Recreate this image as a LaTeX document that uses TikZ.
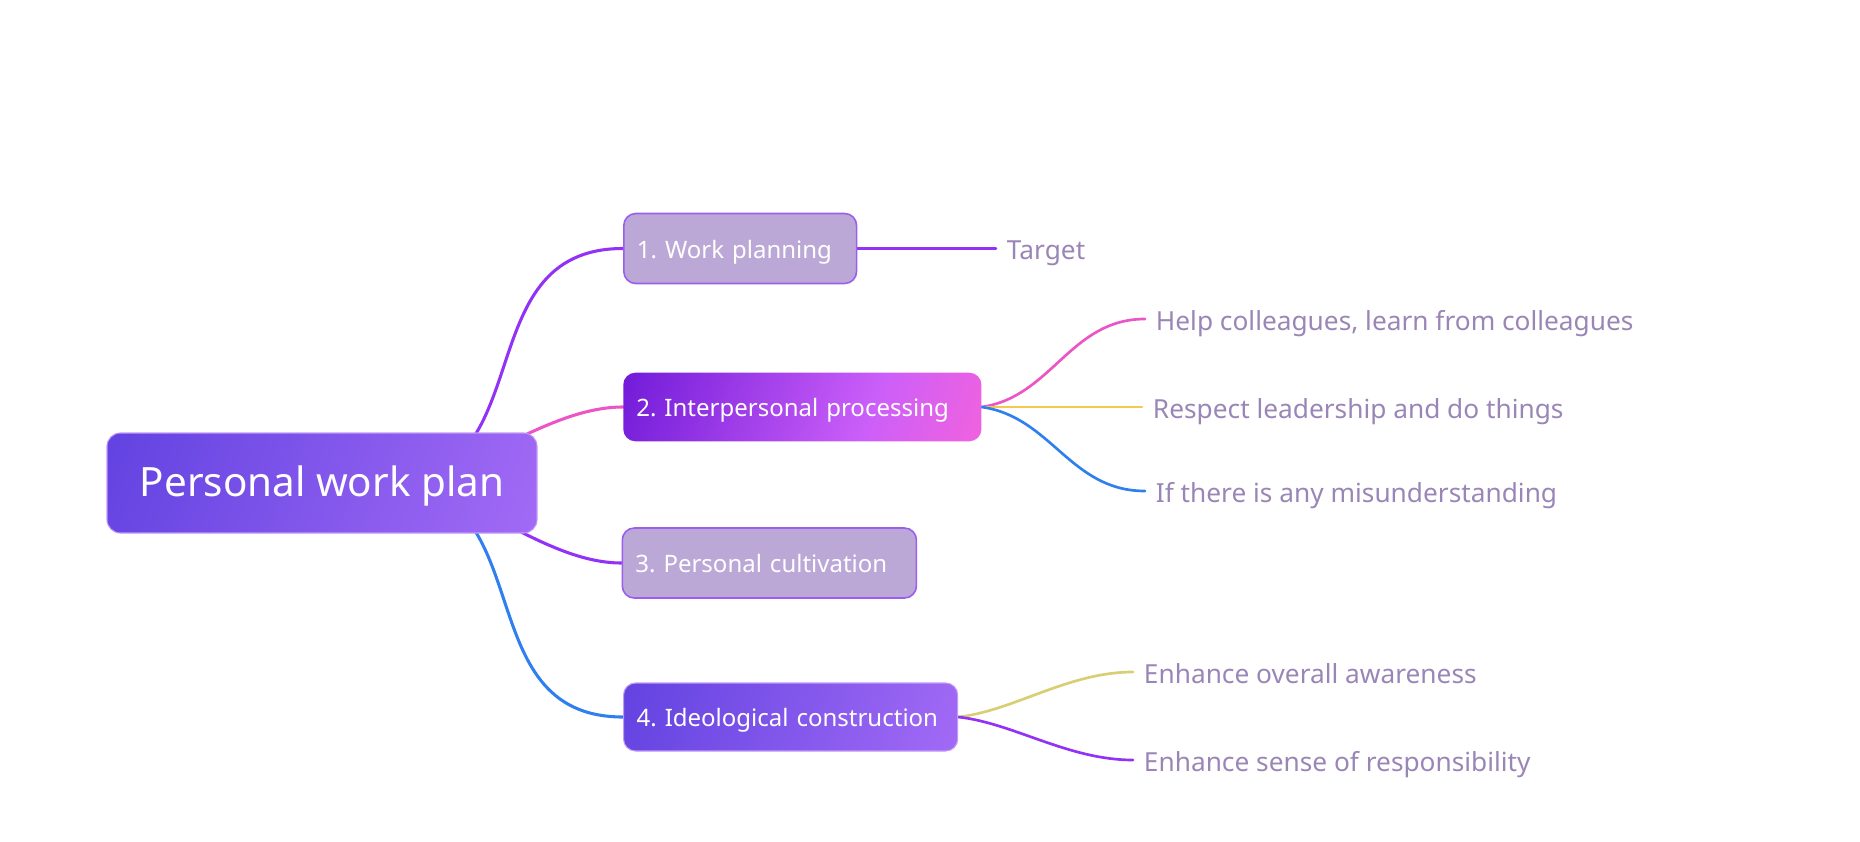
\documentclass[tikz,border=0pt]{standalone}
\usepackage{fontspec}
\setmainfont{Noto Sans}
\pgfdeclarelayer{bg}
\pgfsetlayers{bg,main}
\definecolor{rootA}{HTML}{5C3FDF}
\definecolor{rootB}{HTML}{A86EF7}
\definecolor{greyfill}{HTML}{BBA8D6}
\definecolor{greyborder}{HTML}{9C5EEC}
\definecolor{ipA}{HTML}{6512D4}
\definecolor{ipB}{HTML}{CC5FF9}
\definecolor{ipC}{HTML}{FB63D6}
\definecolor{leaftext}{HTML}{9A86B6}
\definecolor{lpurple}{HTML}{9232F6}
\definecolor{lpink}{HTML}{EB55C6}
\definecolor{lyellow}{HTML}{F4C94E}
\definecolor{lblue}{HTML}{2F80EE}
\definecolor{lolive}{HTML}{D8CE74}
\pgfdeclarehorizontalshading{interp}{100bp}{color(0bp)=(ipA); color(12bp)=(ipA); color(62bp)=(ipB); color(88bp)=(ipC); color(100bp)=(ipC)}
\pgfdeclarehorizontalshading{rootgrad}{100bp}{color(0bp)=(rootA); color(12bp)=(rootA); color(88bp)=(rootB); color(100bp)=(rootB)}
\tikzset{
  rootbox/.style={rounded corners=10pt, shading=rootgrad, shading angle=-20, draw=rootB!70!white, line width=0.8pt,
    minimum width=322.5pt, minimum height=75pt, text=white, font=\fontsize{30.3}{34}\selectfont, inner sep=0pt,
    text height=20.6pt, text depth=0pt},
  greybox/.style={rounded corners=9pt, fill=greyfill, draw=greyborder, line width=1.2pt,
    minimum height=52.5pt, text=white, font=\fontsize{18}{21}\selectfont, align=left, inner xsep=9.8pt, inner ysep=0pt, anchor=west,
    text height=14.7pt, text depth=0pt},
  ipbox/.style={rounded corners=9pt, shading=interp, shading angle=-20, draw=none,
    minimum height=51.4pt, text=white, font=\fontsize{18}{21}\selectfont, align=left, inner xsep=9.8pt, inner ysep=0pt, anchor=west,
    text height=14.7pt, text depth=0pt},
  ideobox/.style={rounded corners=9pt, shading=rootgrad, shading angle=-20, draw=rootB!70!white, line width=0.8pt,
    minimum height=51pt, text=white, font=\fontsize{18}{21}\selectfont, align=left, inner xsep=9.8pt, inner ysep=0pt, anchor=west,
    text height=14.7pt, text depth=0pt},
  leaf/.style={anchor=west, text=leaftext, font=\fontsize{19.7}{23}\selectfont, inner xsep=8pt, inner ysep=2pt,
    text height=16.5pt, text depth=0pt},
  branch/.style={line width=2.3pt, line cap=round},
  twig/.style={line width=2pt, line cap=round},
}
\begin{document}
\frenchspacing
\begin{tikzpicture}[x=0.75pt, y=-0.75pt]
\useasboundingbox (0,0) rectangle (1860,842);
\node[rootbox] (root) at (322,483) {Personal work plan};
\coordinate (hub) at (385,483);
\node[greybox, text width=155pt] (n1) at (623,248.5) {1. Work planning};
\node[ipbox, text width=249pt] (n2) at (623,407) {2. Interpersonal processing};
\node[greybox, text width=201pt] (n3) at (621.5,563) {3. Personal cultivation};
\node[ideobox, text width=231pt] (n4) at (623,717) {4. Ideological construction};

\node[leaf] (target) at (996,248.5) {Target};
\node[leaf] (help) at (1145,319) {Help colleagues, learn from colleagues};
\node[leaf] (respect) at (1142,407) {Respect leadership and do things};
\node[leaf] (mis) at (1145,491) {If there is any misunderstanding};
\node[leaf] (aware) at (1133,672) {Enhance overall awareness};
\node[leaf] (resp) at (1133,760) {Enhance sense of responsibility};

\begin{pgfonlayer}{bg}
\draw[branch, lpurple] (hub) .. controls +(160,0) and +(-160,0) .. (n1.west);
\draw[branch, lpink] (hub) .. controls +(80,0) and +(-80,0) .. (n2.west);
\draw[branch, lpurple] (hub) .. controls +(80,0) and +(-80,0) .. (n3.west);
\draw[branch, lblue] (hub) .. controls +(160,0) and +(-160,0) .. (n4.west);
\draw[twig, lpurple] (n1.east) -- (target.west);
\draw[twig, lpink] (n2.east) .. controls +(70,-10) and +(-75,0) .. (help.west);
\draw[twig, lyellow] (n2.east) -- (respect.west);
\draw[twig, lblue] (n2.east) .. controls +(70,10) and +(-75,0) .. (mis.west);
\draw[twig, lolive] (n4.east) .. controls +(55,-6) and +(-65,0) .. (aware.west);
\draw[twig, lpurple] (n4.east) .. controls +(55,6) and +(-65,0) .. (resp.west);
\end{pgfonlayer}
\end{tikzpicture}
\end{document}
